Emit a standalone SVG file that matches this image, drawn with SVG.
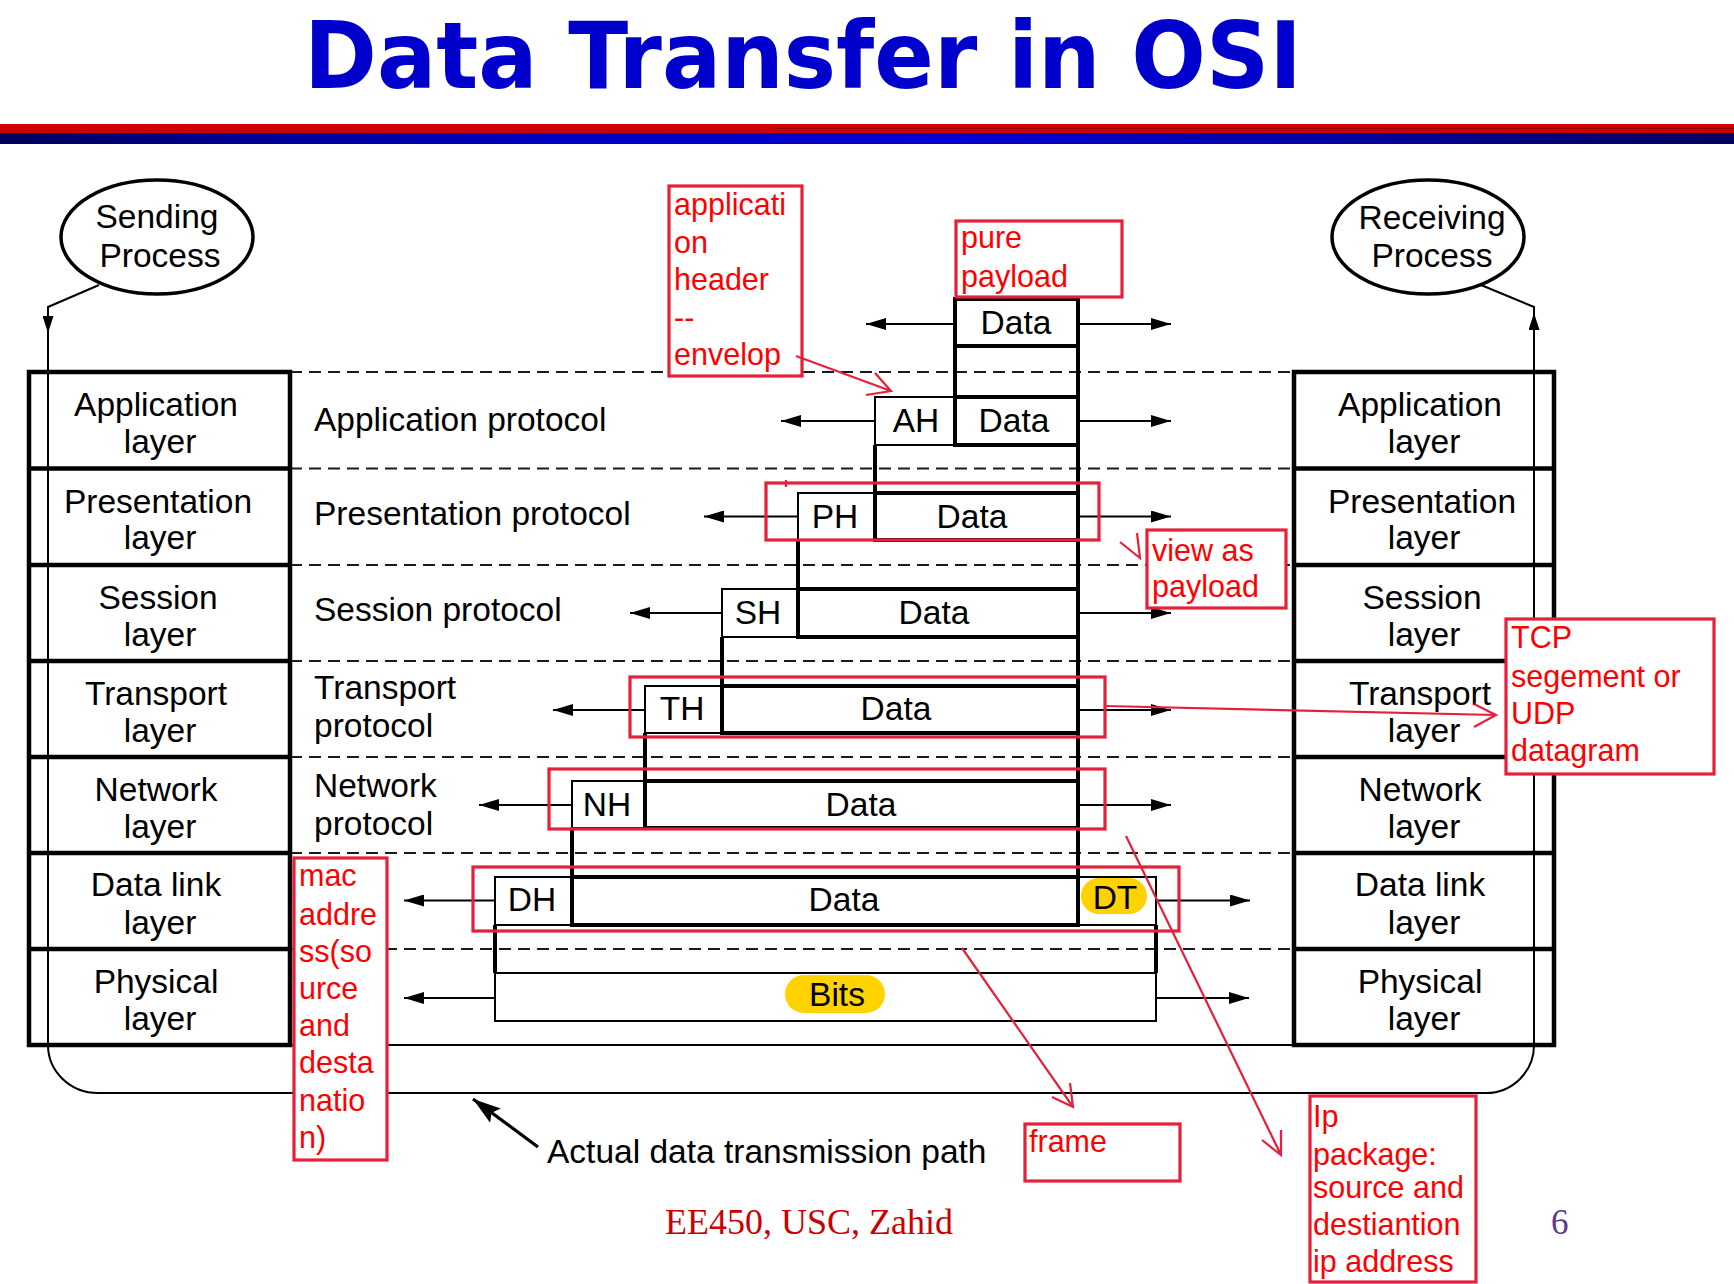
<svg xmlns="http://www.w3.org/2000/svg" width="1734" height="1284" viewBox="0 0 1734 1284">
<defs>
<style>
.t{font-family:"Liberation Sans",Arial,Helvetica,sans-serif;font-size:33.5px;fill:#000}
.c{text-anchor:middle}
.r{font-family:"Liberation Sans",Arial,sans-serif;font-size:30.5px;fill:#ff0000}
.thick{fill:none;stroke:#000;stroke-width:4}
.thin{fill:none;stroke:#000;stroke-width:2}
.hdr{fill:#fff;stroke:#000;stroke-width:2}
.dat{fill:#fff;stroke:#000;stroke-width:4}
.stack{fill:#fff;stroke:#000;stroke-width:4.5}
.sep{stroke:#000;stroke-width:4.5}
.dash{stroke:#1a1a1a;stroke-width:2;stroke-dasharray:12 7}
.arr{stroke:#000;stroke-width:2.2;fill:none;marker-end:url(#ah)}
.note{fill:#fff;stroke:#e5203a;stroke-width:3.2}
.hl{fill:none;stroke:#e5203a;stroke-width:3.2}
.rl{fill:none;stroke:#e5203a;stroke-width:2.2}
.pill{fill:#ffd200}
</style>
<linearGradient id="bar" x1="0" y1="0" x2="1" y2="0">
<stop offset="0" stop-color="#00005c"/>
<stop offset="0.16" stop-color="#00009a"/>
<stop offset="0.33" stop-color="#0000c4"/>
<stop offset="0.55" stop-color="#0000d0"/>
<stop offset="0.75" stop-color="#0000a8"/>
<stop offset="0.9" stop-color="#000078"/>
<stop offset="1" stop-color="#000060"/>
</linearGradient>
<marker id="ah" viewBox="0 0 20 12" refX="20" refY="6" markerWidth="20" markerHeight="12" markerUnits="userSpaceOnUse" orient="auto">
<path d="M0,0 L20,6 L0,12 z" fill="#000"/>
</marker>
<marker id="ahs" viewBox="0 0 17 11" refX="17" refY="5.5" markerWidth="17" markerHeight="11" markerUnits="userSpaceOnUse" orient="auto">
<path d="M0,0 L17,5.5 L0,11 z" fill="#000"/>
</marker>
<marker id="ahb" viewBox="0 0 28 18" refX="28" refY="9" markerWidth="28" markerHeight="18" markerUnits="userSpaceOnUse" orient="auto">
<path d="M0,0 L28,9 L0,18 L5,9 z" fill="#000"/>
</marker>
</defs>

<rect width="1734" height="1284" fill="#fff"/>

<!-- title and header rule -->
<g id="title">
<text x="304" y="88" font-family="'DejaVu Sans',Verdana,sans-serif" font-weight="bold" font-size="92" fill="#0000cc" textLength="998" lengthAdjust="spacingAndGlyphs">Data Transfer in OSI</text>
<rect x="0" y="124" width="1734" height="9" fill="#cc0000"/>
<line x1="774" y1="128.5" x2="1734" y2="128.5" stroke="#990000" stroke-width="1"/>
<rect x="0" y="133" width="1734" height="11" fill="url(#bar)"/>
</g>

<!-- layer boundaries between the two stacks -->
<g id="layer-boundaries">
<line class="dash" x1="290" y1="372" x2="1294" y2="372"/>
<line class="dash" x1="290" y1="468.5" x2="1294" y2="468.5"/>
<line class="dash" x1="290" y1="565" x2="1294" y2="565"/>
<line class="dash" x1="290" y1="661" x2="1294" y2="661"/>
<line class="dash" x1="290" y1="757" x2="1294" y2="757"/>
<line class="dash" x1="290" y1="853" x2="1294" y2="853"/>
<line class="dash" x1="290" y1="949" x2="1294" y2="949"/>
<line x1="290" y1="1045" x2="1294" y2="1045" stroke="#000" stroke-width="2"/>
</g>

<!-- processes -->
<g id="sending-process">
<ellipse cx="157" cy="237" rx="96" ry="57" fill="#fff" stroke="#000" stroke-width="3.5"/>
<text class="t c" x="157" y="228">Sending</text>
<text class="t c" x="160" y="267">Process</text>
</g>
<g id="receiving-process">
<ellipse cx="1428" cy="237" rx="96" ry="57" fill="#fff" stroke="#000" stroke-width="3.5"/>
<text class="t c" x="1432" y="229">Receiving</text>
<text class="t c" x="1432" y="267">Process</text>
</g>

<!-- sending host stack -->
<g id="sender-stack">
<rect class="stack" x="29" y="372" width="261" height="673"/>
<line class="sep" x1="29" y1="468.5" x2="290" y2="468.5"/>
<line class="sep" x1="29" y1="565" x2="290" y2="565"/>
<line class="sep" x1="29" y1="661" x2="290" y2="661"/>
<line class="sep" x1="29" y1="757" x2="290" y2="757"/>
<line class="sep" x1="29" y1="853" x2="290" y2="853"/>
<line class="sep" x1="29" y1="949" x2="290" y2="949"/>
<text class="t c" x="156" y="416">Application</text>
<text class="t c" x="160" y="452.5">layer</text>
<text class="t c" x="158" y="512.5">Presentation</text>
<text class="t c" x="160" y="549">layer</text>
<text class="t c" x="158" y="609">Session</text>
<text class="t c" x="160" y="645.5">layer</text>
<text class="t c" x="156" y="705">Transport</text>
<text class="t c" x="160" y="741.5">layer</text>
<text class="t c" x="156" y="801">Network</text>
<text class="t c" x="160" y="837.5">layer</text>
<text class="t c" x="156" y="896">Data link</text>
<text class="t c" x="160" y="933.5">layer</text>
<text class="t c" x="156" y="993">Physical</text>
<text class="t c" x="160" y="1029.5">layer</text>
</g>

<!-- receiving host stack -->
<g id="receiver-stack">
<rect class="stack" x="1294" y="372" width="260" height="673"/>
<line class="sep" x1="1294" y1="468.5" x2="1554" y2="468.5"/>
<line class="sep" x1="1294" y1="565" x2="1554" y2="565"/>
<line class="sep" x1="1294" y1="661" x2="1554" y2="661"/>
<line class="sep" x1="1294" y1="757" x2="1554" y2="757"/>
<line class="sep" x1="1294" y1="853" x2="1554" y2="853"/>
<line class="sep" x1="1294" y1="949" x2="1554" y2="949"/>
<text class="t c" x="1420" y="416">Application</text>
<text class="t c" x="1424" y="452.5">layer</text>
<text class="t c" x="1422" y="512.5">Presentation</text>
<text class="t c" x="1424" y="549">layer</text>
<text class="t c" x="1422" y="609">Session</text>
<text class="t c" x="1424" y="645.5">layer</text>
<text class="t c" x="1420" y="705">Transport</text>
<text class="t c" x="1424" y="741.5">layer</text>
<text class="t c" x="1420" y="801">Network</text>
<text class="t c" x="1424" y="837.5">layer</text>
<text class="t c" x="1420" y="896">Data link</text>
<text class="t c" x="1424" y="933.5">layer</text>
<text class="t c" x="1420" y="993">Physical</text>
<text class="t c" x="1424" y="1029.5">layer</text>
</g>

<!-- peer protocol labels -->
<g id="protocol-labels">
<text class="t" x="314" y="431">Application protocol</text>
<text class="t" x="314" y="525">Presentation protocol</text>
<text class="t" x="314" y="621">Session protocol</text>
<text class="t" x="314" y="699">Transport</text>
<text class="t" x="314" y="737">protocol</text>
<text class="t" x="314" y="797">Network</text>
<text class="t" x="314" y="835">protocol</text>
</g>

<!-- encapsulated data units, one row per layer -->
<g id="unit-application-data">
<rect class="dat" x="955" y="299" width="123" height="47"/>
<text class="t c" x="1016" y="334">Data</text>
</g>
<g id="unit-application">
<line class="thick" x1="955" y1="346" x2="955" y2="397"/>
<line class="thick" x1="1078" y1="346" x2="1078" y2="397"/>
<rect class="hdr" x="875" y="397" width="80" height="48"/>
<rect class="dat" x="955" y="397" width="123" height="48"/>
<text class="t c" x="916" y="432">AH</text>
<text class="t c" x="1014" y="432">Data</text>
</g>
<g id="unit-presentation">
<line class="thick" x1="875" y1="445" x2="875" y2="493"/>
<line class="thick" x1="1078" y1="445" x2="1078" y2="493"/>
<rect class="hdr" x="798" y="493" width="77" height="47"/>
<rect class="dat" x="875" y="493" width="203" height="47"/>
<text class="t c" x="835" y="527.5">PH</text>
<text class="t c" x="972" y="527.5">Data</text>
</g>
<g id="unit-session">
<line class="thick" x1="798" y1="540" x2="798" y2="589"/>
<line class="thick" x1="1078" y1="540" x2="1078" y2="589"/>
<rect class="hdr" x="722" y="589" width="76" height="48"/>
<rect class="dat" x="798" y="589" width="280" height="48"/>
<text class="t c" x="758" y="624">SH</text>
<text class="t c" x="934" y="624">Data</text>
</g>
<g id="unit-transport">
<line class="thick" x1="722" y1="637" x2="722" y2="686"/>
<line class="thick" x1="1078" y1="637" x2="1078" y2="686"/>
<rect class="hdr" x="645" y="686" width="77" height="47"/>
<rect class="dat" x="722" y="686" width="356" height="47"/>
<text class="t c" x="682" y="720">TH</text>
<text class="t c" x="896" y="720">Data</text>
</g>
<g id="unit-network">
<line class="thick" x1="645" y1="733" x2="645" y2="781"/>
<line class="thick" x1="1078" y1="733" x2="1078" y2="781"/>
<rect class="hdr" x="572" y="781" width="73" height="47"/>
<rect class="dat" x="645" y="781" width="433" height="47"/>
<text class="t c" x="607" y="815.5">NH</text>
<text class="t c" x="861" y="815.5">Data</text>
</g>
<g id="unit-data-link">
<line class="thick" x1="572" y1="828" x2="572" y2="877"/>
<line class="thick" x1="1078" y1="828" x2="1078" y2="877"/>
<rect class="hdr" x="495" y="877" width="77" height="48"/>
<rect class="hdr" x="1078" y="877" width="78" height="48"/>
<rect class="dat" x="572" y="877" width="506" height="48"/>
<rect class="pill" x="1081" y="878" width="66" height="36" rx="18"/>
<text class="t c" x="532" y="911">DH</text>
<text class="t c" x="844" y="911">Data</text>
<text class="t c" x="1115" y="909">DT</text>
</g>
<g id="unit-physical">
<line class="thick" x1="495" y1="925" x2="495" y2="973"/>
<line class="thick" x1="1156" y1="925" x2="1156" y2="973"/>
<rect class="hdr" x="495" y="973" width="661" height="48"/>
<rect class="pill" x="785" y="975" width="100" height="38" rx="19"/>
<text class="t c" x="837" y="1006">Bits</text>
</g>

<!-- connectors -->
<g id="connectors">
<path class="thin" d="M99,285 L48,307 L48,333" marker-end="url(#ahs)"/>
<path class="thin" d="M48,333 L48,1045 A50 48 0 0 0 98 1093 L1486,1093 A48 48 0 0 0 1534 1045 L1534,313" marker-end="url(#ahs)"/>
<path class="thin" d="M1534,313 L1534,307 L1481,285"/>
<line class="arr" x1="955" y1="324" x2="866" y2="324"/>
<line class="arr" x1="1078" y1="324" x2="1171" y2="324"/>
<line class="arr" x1="875" y1="421" x2="781" y2="421"/>
<line class="arr" x1="1078" y1="421" x2="1171" y2="421"/>
<line class="arr" x1="798" y1="516.5" x2="704" y2="516.5"/>
<line class="arr" x1="1078" y1="516.5" x2="1171" y2="516.5"/>
<line class="arr" x1="722" y1="613" x2="630" y2="613"/>
<line class="arr" x1="1078" y1="613" x2="1171" y2="613"/>
<line class="arr" x1="645" y1="710" x2="553" y2="710"/>
<line class="arr" x1="1078" y1="710" x2="1171" y2="710"/>
<line class="arr" x1="572" y1="805" x2="479" y2="805"/>
<line class="arr" x1="1078" y1="805" x2="1171" y2="805"/>
<line class="arr" x1="495" y1="900.5" x2="404" y2="900.5"/>
<line class="arr" x1="1156" y1="900.5" x2="1250" y2="900.5"/>
<line class="arr" x1="495" y1="998" x2="404" y2="998"/>
<line class="arr" x1="1156" y1="998" x2="1249" y2="998"/>
<line x1="538" y1="1147" x2="473" y2="1099" stroke="#000" stroke-width="3.2" marker-end="url(#ahb)"/>
</g>

<g id="path-caption">
<text class="t" x="547" y="1163">Actual data transmission path</text>
</g>

<!-- highlighted units -->
<g id="highlights">
<rect class="hl" x="766" y="483" width="333" height="57"/>
<line class="rl" x1="786" y1="480" x2="786" y2="487" stroke-width="3"/>
<rect class="hl" x="630" y="677" width="475" height="60"/>
<rect class="hl" x="549" y="769" width="556" height="60"/>
<rect class="hl" x="473" y="867" width="706" height="64"/>
</g>

<!-- notes -->
<g id="note-app-header">
<rect class="note" x="669" y="186" width="133" height="190"/>
<text class="r" x="674" y="215">applicati</text>
<text class="r" x="674" y="252.5">on</text>
<text class="r" x="674" y="290">header</text>
<text class="r" x="674" y="327.5">--</text>
<text class="r" x="674" y="364.5">envelop</text>
</g>
<g id="note-pure-payload">
<rect class="note" x="956" y="221" width="166" height="76"/>
<text class="r" x="961" y="248">pure</text>
<text class="r" x="961" y="287">payload</text>
</g>
<g id="note-view-payload">
<rect class="note" x="1147" y="530" width="139" height="78"/>
<text class="r" x="1152" y="561">view as</text>
<text class="r" x="1152" y="597">payload</text>
</g>
<g id="note-tcp">
<rect class="note" x="1506" y="619" width="208" height="155"/>
<text class="r" x="1511" y="648">TCP</text>
<text class="r" x="1511" y="686.5">segement or</text>
<text class="r" x="1511" y="724">UDP</text>
<text class="r" x="1511" y="760.5">datagram</text>
</g>
<g id="note-mac">
<rect class="note" x="294" y="858" width="93" height="302"/>
<text class="r" x="299" y="886">mac</text>
<text class="r" x="299" y="925">addre</text>
<text class="r" x="299" y="962">ss(so</text>
<text class="r" x="299" y="999">urce</text>
<text class="r" x="299" y="1036">and</text>
<text class="r" x="299" y="1073">desta</text>
<text class="r" x="299" y="1111">natio</text>
<text class="r" x="299" y="1148">n)</text>
</g>
<g id="note-frame">
<rect class="note" x="1025" y="1124" width="155" height="57"/>
<text class="r" x="1029" y="1152">frame</text>
</g>
<g id="note-ip">
<rect class="note" x="1310" y="1096" width="166" height="186"/>
<text class="r" x="1313" y="1127">Ip</text>
<text class="r" x="1313" y="1165">package:</text>
<text class="r" x="1313" y="1198">source and</text>
<text class="r" x="1313" y="1235">destiantion</text>
<text class="r" x="1313" y="1272">ip address</text>
</g>

<!-- note pointers -->
<g id="note-pointers">
<path class="rl" d="M796,356 L891,391 M866,395 L891,391 L875,373"/>
<path class="rl" d="M1120,542 L1140,558 L1137,533"/>
<path class="rl" d="M1105,706 L1496,715 M1474,704 L1496,715 L1474,727"/>
<path class="rl" d="M962,948 L1073,1107 M1052,1097 L1073,1107 L1070,1083"/>
<path class="rl" d="M1126,836 L1281,1155 M1262,1140 L1281,1155 L1281,1130"/>
</g>

<!-- footer -->
<g id="footer">
<text x="665" y="1234" font-family="'Liberation Serif','Times New Roman',serif" font-size="35" fill="#cc0000" textLength="288" lengthAdjust="spacingAndGlyphs">EE450, USC, Zahid</text>
<text x="1551" y="1234" font-family="'Liberation Serif','Times New Roman',serif" font-size="35" fill="#5b3a8c">6</text>
</g>
</svg>
